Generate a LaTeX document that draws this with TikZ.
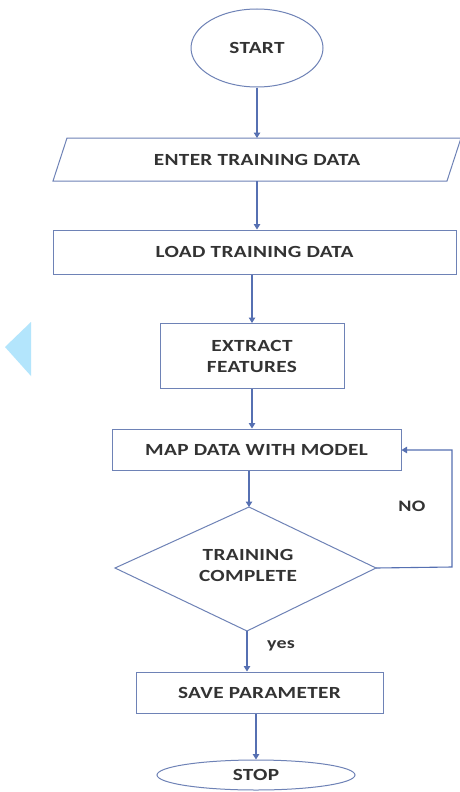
\documentclass[tikz,border=0pt]{standalone}
\usepackage{fontspec}
\setmainfont{Carlito}[FakeStretch=1.25, LetterSpace=2]
\usetikzlibrary{arrows.meta,shapes.geometric,calc}
\definecolor{flowline}{HTML}{5670B2}
\definecolor{flowedge}{HTML}{6E82B6}
\definecolor{marker}{HTML}{B3E5FC}
\definecolor{ink}{HTML}{333333}
\tikzset{
  x=1pt, y=-1pt,
  every node/.style={font=\bfseries\fontsize{17}{21}\selectfont, text=ink},
  boxshape/.style={draw=flowedge, line width=1pt, minimum width=#1, rectangle, inner sep=0pt},
  oval/.style={draw=flowedge, line width=1pt, ellipse, inner sep=0pt},
  flow/.style={draw=flowline, line width=1.1pt, -{Triangle[width=6.5pt,length=5.5pt]}},
  tag/.style={font=\bfseries\fontsize{16}{19}\selectfont}
}
\begin{document}
\begin{tikzpicture}
\useasboundingbox (0,0) rectangle (459,792);
\fill[white] (0,0) rectangle (459,792);

% terminals
\node[oval, minimum width=132pt, minimum height=78pt] (start) at (257,48) {START};
\node[oval, minimum width=198pt, minimum height=30pt] (stop) at (256,775) {STOP};

% input parallelogram
\coordinate (enterNW) at (67,138);
\coordinate (enterNE) at (461,138);
\coordinate (enterSE) at (447,181);
\coordinate (enterSW) at (53,181);
\draw[flowedge, line width=1pt] (enterNW) -- (enterNE) -- (enterSE) -- (enterSW) -- cycle;
\node (enter) at (257,160) {ENTER TRAINING DATA};
\coordinate (enterTop) at (257,138);
\coordinate (enterBot) at (257,181);

% process boxes
\node[boxshape=403pt, minimum height=44pt] (load) at (254.5,252) {LOAD TRAINING DATA};
\node[boxshape=184pt, minimum height=65pt, align=center] (extract) at (252,356) {EXTRACT\\FEATURES};
\node[boxshape=289pt, minimum height=41pt] (map) at (256.5,449.5) {MAP DATA WITH MODEL};
\node[boxshape=247pt, minimum height=41pt] (save) at (259.5,692.5) {SAVE PARAMETER};

% decision
\coordinate (decN) at (249,507);
\coordinate (decE) at (376,568);
\coordinate (decS) at (247,631);
\coordinate (decW) at (115,568);
\draw[flowedge, line width=1pt] (decN) -- (decE) -- (decS) -- (decW) -- cycle;
\node[align=center] (decision) at (248,565) {TRAINING\\COMPLETE};

% connectors
\draw[flow] (start.south) -- (start.south |- enterTop);
\draw[flow] (enterBot) -- (enterBot |- load.north);
\draw[flow] (load.south -| extract.north) -- (extract.north);
\draw[flow] (extract.south) -- (extract.south |- map.north);
\draw[flow] (map.south -| decN) -- (decN);
\draw[flow] (decS) -- (decS |- save.north);
\draw[flow] (save.south -| stop.north) -- (stop.north);
\coordinate (loopSE) at (452,567);
\coordinate (loopNE) at (452,450);
\draw[flow] (decE) -- (loopSE) -- (loopNE) -- (map.east |- loopNE);

% branch labels
\node[tag] (nolabel) at (412,506) {NO};
\node[tag] (yeslabel) at (281,646) {yes};

% side marker
\fill[marker] (5,347) -- (31,322) -- (31,376) -- cycle;
\end{tikzpicture}
\end{document}
